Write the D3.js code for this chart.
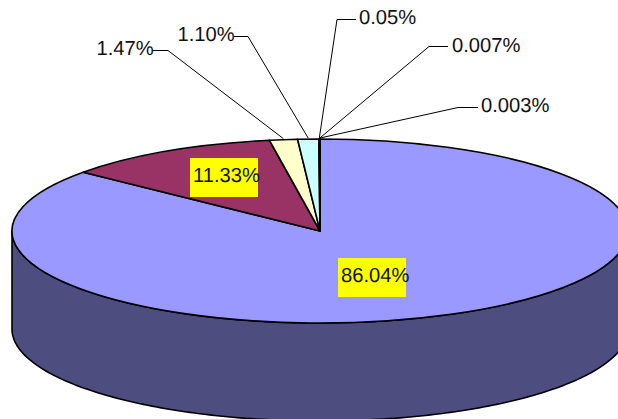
<!DOCTYPE html>
<html>
<head>
<meta charset="utf-8">
<style>
  html, body { margin: 0; padding: 0; background: #fff; }
  svg { display: block; }
  text { font-family: "Liberation Sans", Arial, sans-serif; font-size: 20.2px; fill: #111; text-rendering: geometricPrecision; }
</style>
<script src="https://cdn.jsdelivr.net/npm/d3@7"></script>
</head>
<body>
<script>
// Share of each category, clockwise from twelve o'clock
const shares = [86.04, 11.33, 1.47, 1.10, 0.05, 0.007, 0.003];
const shareLabels = ["86.04%", "11.33%", "1.47%", "1.10%", "0.05%", "0.007%", "0.003%"];
const sliceColors = ["#9999ff", "#993366", "#ffffcc", "#ccffff", "#660066", "#ff8080", "#0066cc"];
const wallColor = "#4d4d7f";

// Label placement: text origin, whether it has a yellow box, and leader elbow/end
const labelX = [341, 193, 96.5, 177.5, 359, 452, 481];
const labelY = [282, 182, 55, 41, 24, 52, 112];
const boxedLabels = [true, true, false, false, false, false, false];
const elbowX = [null, null, 168, 248, 337, 429, 458];
const elbowY = [null, null, 50, 36, 19, 46, 107];
const leaderEndX = [null, null, 152, 234, 356, 448, 478];

const width = 618, height = 419;
const cx = 320, cy = 231, rx = 308, ry = 92, depth = 98;

const svg = d3.select("body").append("svg")
  .attr("width", width).attr("height", height)
  .attr("viewBox", `0 0 ${width} ${height}`);

const pie = d3.pie().sort(null).value(d => d);
const arcs = pie(shares);

// Unit-circle angle (0 at top, clockwise) projected on to the tilted disc
const xScale = d3.scaleLinear().domain([-1, 1]).range([cx - rx, cx + rx]);
const yScale = d3.scaleLinear().domain([-1, 1]).range([cy - ry, cy + ry]);
const onRim = a => [xScale(Math.sin(a)), yScale(-Math.cos(a))];

// Side wall: front half of the rim, extruded downwards
const frontAngles = d3.range(Math.PI / 2, 3 * Math.PI / 2 + 0.001, Math.PI / 180);
const rimPoints = frontAngles.map(onRim);
const wallPoints = rimPoints.concat(rimPoints.slice().reverse().map(([x, y]) => [x, y + depth]));
svg.append("path")
  .attr("d", d3.line()(wallPoints) + "Z")
  .attr("fill", wallColor)
  .attr("stroke", "#000")
  .attr("stroke-width", 1.6)
  .attr("stroke-linejoin", "round");

// Top face of the pie
const arcGen = d3.arc().innerRadius(0).outerRadius(rx);
svg.append("g")
  .attr("transform", `translate(${cx},${cy}) scale(1,${ry / rx})`)
  .selectAll("path")
  .data(arcs)
  .join("path")
  .attr("d", arcGen)
  .attr("fill", (d, i) => sliceColors[i])
  .attr("stroke", "#000")
  .attr("stroke-width", 1.6)
  .attr("stroke-linejoin", "round")
  .attr("vector-effect", "non-scaling-stroke");

// Leader lines from each thin slice to its label
const leader = d3.line();
arcs.forEach((d, i) => {
  if (elbowX[i] === null) return;
  const mid = (d.startAngle + d.endAngle) / 2;
  const [ax, ay] = onRim(mid);
  svg.append("path")
    .attr("d", leader([[ax, ay - 1], [elbowX[i], elbowY[i] + 0.5], [leaderEndX[i], elbowY[i] + 0.5]]))
    .attr("fill", "none")
    .attr("stroke", "#000")
    .attr("stroke-width", 1);
});

// Value labels, the two large slices on yellow boxes
shareLabels.forEach((label, i) => {
  if (boxedLabels[i]) {
    svg.append("rect")
      .attr("x", labelX[i] - 3)
      .attr("y", labelY[i] - 24)
      .attr("width", 68)
      .attr("height", 39)
      .attr("fill", "#ffff00");
  }
  svg.append("text")
    .attr("x", labelX[i])
    .attr("y", labelY[i])
    .text(label);
});
</script>
</body>
</html>
